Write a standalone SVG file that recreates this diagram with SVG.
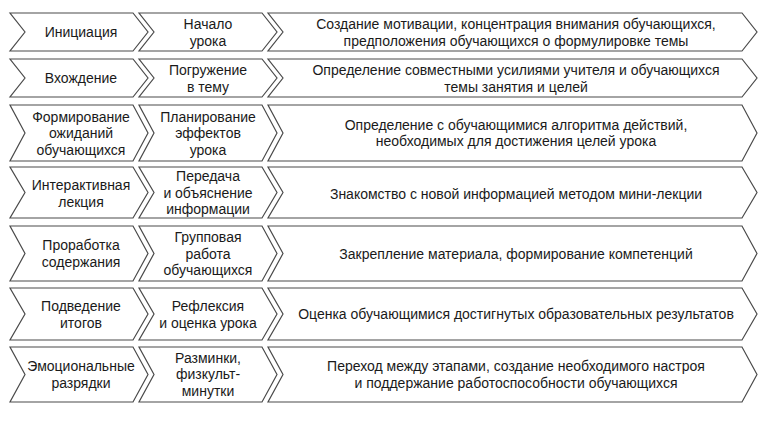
<svg xmlns="http://www.w3.org/2000/svg" width="777" height="429" viewBox="0 0 777 429">
<style>
.c{fill:#fff;stroke:#4a4a4a;stroke-width:1.2;stroke-linejoin:miter}
text{font-family:"Liberation Sans",Arial,sans-serif;font-size:14px;fill:#1a1a1a;text-anchor:middle}
.a{}
</style>
<rect width="777" height="429" fill="#fff"/>
<g id="connectors"></g>
<!-- Row 1: 13-51 -->
<g id="r1c1"><polygon class="c" points="10,13 133,13 148,32 133,51 10,51 25,32"/><text x="81" y="37">Инициация</text></g>
<g id="r1c2"><polygon class="c" points="139,13 262,13 277,32 262,51 139,51 154,32"/><text x="208" y="29">Начало</text><text x="208" y="45.5">урока</text></g>
<g id="r1c3"><polygon class="c" points="268,13 742,13 757,32 742,51 268,51 283,32"/><text x="516" y="29">Создание мотивации, концентрация внимания обучающихся,</text><text x="516" y="45.5">предположения обучающихся о формулировке темы</text></g>
<!-- Row 2: 59-97 -->
<g id="r2c1"><polygon class="c" points="10,59 133,59 148,78 133,97 10,97 25,78"/><text x="81" y="83">Вхождение</text></g>
<g id="r2c2"><polygon class="c" points="139,59 262,59 277,78 262,97 139,97 154,78"/><text x="208" y="75">Погружение</text><text x="208" y="91.5">в тему</text></g>
<g id="r2c3"><polygon class="c" points="268,59 742,59 757,78 742,97 268,97 283,78"/><text x="516" y="75">Определение совместными усилиями учителя и обучающихся</text><text x="516" y="91.5">темы занятия и целей</text></g>
<!-- Row 3: 105-161 -->
<g id="r3c1"><polygon class="c" points="10,105 133,105 148,133 133,161 10,161 25,133"/><text x="81" y="121.5">Формирование</text><text x="81" y="138">ожиданий</text><text x="81" y="154.5">обучающихся</text></g>
<g id="r3c2"><polygon class="c" points="139,105 262,105 277,133 262,161 139,161 154,133"/><text x="208" y="121.5">Планирование</text><text x="208" y="138">эффектов</text><text x="208" y="154.5">урока</text></g>
<g id="r3c3"><polygon class="c" points="268,105 742,105 757,133 742,161 268,161 283,133"/><text x="516" y="129.5">Определение с обучающимися алгоритма действий,</text><text x="516" y="146">необходимых для достижения целей урока</text></g>
<!-- Row 4: 167-218 -->
<g id="r4c1"><polygon class="c" points="10,167 133,167 148,192.5 133,218 10,218 25,192.5"/><text x="81" y="190">Интерактивная</text><text x="81" y="207">лекция</text></g>
<g id="r4c2"><polygon class="c" points="139,167 262,167 277,192.5 262,218 139,218 154,192.5"/><text x="208" y="181">Передача</text><text x="208" y="197.5">и объяснение</text><text x="208" y="214">информации</text></g>
<g id="r4c3"><polygon class="c" points="268,167 742,167 757,192.5 742,218 268,218 283,192.5"/><text x="516" y="198.5">Знакомство с новой информацией методом мини-лекции</text></g>
<!-- Row 5: 226-281 -->
<g id="r5c1"><polygon class="c" points="10,226 133,226 148,253.5 133,281 10,281 25,253.5"/><text x="81" y="250">Проработка</text><text x="81" y="267">содержания</text></g>
<g id="r5c2"><polygon class="c" points="139,226 262,226 277,253.5 262,281 139,281 154,253.5"/><text x="208" y="242">Групповая</text><text x="208" y="258.5">работа</text><text x="208" y="275">обучающихся</text></g>
<g id="r5c3"><polygon class="c" points="268,226 742,226 757,253.5 742,281 268,281 283,253.5"/><text x="516" y="258.5">Закрепление материала, формирование компетенций</text></g>
<!-- Row 6: 288-340 -->
<g id="r6c1"><polygon class="c" points="10,288 133,288 148,314 133,340 10,340 25,314"/><text x="81" y="311">Подведение</text><text x="81" y="328">итогов</text></g>
<g id="r6c2"><polygon class="c" points="139,288 262,288 277,314 262,340 139,340 154,314"/><text x="208" y="311">Рефлексия</text><text x="208" y="328">и оценка урока</text></g>
<g id="r6c3"><polygon class="c" points="268,288 742,288 757,314 742,340 268,340 283,314"/><text x="516" y="319">Оценка обучающимися достигнутых образовательных результатов</text></g>
<!-- Row 7: 347-402 -->
<g id="r7c1"><polygon class="c" points="10,347 133,347 148,374.5 133,402 10,402 25,374.5"/><text x="81" y="371">Эмоциональные</text><text x="81" y="388">разрядки</text></g>
<g id="r7c2"><polygon class="c" points="139,347 262,347 277,374.5 262,402 139,402 154,374.5"/><text x="208" y="362.5">Разминки,</text><text x="208" y="379">физкульт-</text><text x="208" y="395.5">минутки</text></g>
<g id="r7c3"><polygon class="c" points="268,347 742,347 757,374.5 742,402 268,402 283,374.5"/><text x="516" y="371">Переход между этапами, создание необходимого настроя</text><text x="516" y="388">и поддержание работоспособности обучающихся</text></g>
</svg>
